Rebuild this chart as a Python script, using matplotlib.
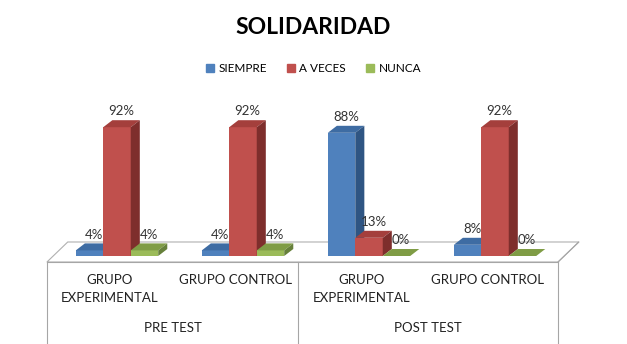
import numpy as np
import matplotlib.pyplot as plt
from matplotlib.patches import Polygon, Patch

plt.rcParams['font.family'] = ['Lato', 'DejaVu Sans']

# datos
grupos = ['GRUPO\nEXPERIMENTAL', 'GRUPO CONTROL', 'GRUPO\nEXPERIMENTAL', 'GRUPO CONTROL']
fases = ['PRE TEST', 'POST TEST']
series = ['SIEMPRE', 'A VECES', 'NUNCA']
siempre = [4, 4, 88, 8]
a_veces = [92, 92, 13, 92]
nunca = [4, 4, 0, 0]

# colores: frente, arriba, lado
colores = {
    'SIEMPRE': ('#4f81bd', '#3e6ca3', '#2f5583'),
    'A VECES': ('#c0504d', '#a43f3c', '#7e2e2c'),
    'NUNCA': ('#9bbb59', '#7f9c45', '#66803a'),
}

fig = plt.figure(figsize=(6.27, 3.44), dpi=100)
ax = fig.add_axes([0, 0, 1, 1])
ax.set_xlim(-0.9286, 4.0476)
ax.set_ylim(-62.86, 182.86)
ax.axis('off')

ancho = 0.218
dx, dy = 0.072, 5.0
x = np.arange(len(grupos))

# piso
fx0, fx1, fy = -0.556, 3.5, -4.3
bdx, bdy = 0.165, 14.3
piso = Polygon([(fx0, fy), (fx1, fy), (fx1 + bdx, fy + bdy), (fx0 + bdx, fy + bdy)],
               closed=True, facecolor='white', edgecolor='#b0b0b0', lw=0.8, zorder=1)
ax.add_patch(piso)

for k, (nombre, vals) in enumerate(zip(series, [siempre, a_veces, nunca])):
    fc, tc, sc = colores[nombre]
    xs = x + (k - 1) * ancho
    ax.bar(xs, vals, width=ancho, color=fc, zorder=3 + k)
    for xi, v in zip(xs, vals):
        l, r = xi - ancho / 2, xi + ancho / 2
        ax.add_patch(Polygon([(l, v), (r, v), (r + dx, v + dy), (l + dx, v + dy)],
                             closed=True, facecolor=tc, lw=0, zorder=3 + k))
        ax.add_patch(Polygon([(r, 0), (r + dx, dy), (r + dx, v + dy), (r, v)],
                             closed=True, facecolor=sc, lw=0, zorder=3 + k))
        ax.text(xi + dx / 2, v + dy + 2.0, f'{v}%', ha='center', va='bottom',
                fontsize=9.5, color='#333333', zorder=10)

# tabla de categorias
lc = '#a6a6a6'
ytab = -62.86
xmid = 1.437
ax.plot([fx0, fx1], [fy, fy], color=lc, lw=0.8, zorder=2)
for xv in [fx0, xmid, fx1]:
    ax.plot([xv, xv], [fy, ytab], color=lc, lw=0.8, zorder=2)
ax.plot([fx1, fx1 + bdx], [fy, fy + bdy], color=lc, lw=0.8, zorder=2)

for i, g in enumerate(grupos):
    ax.text(i - 0.06, -13.0, g, ha='center', va='top', fontsize=9.5,
            color='#222222', linespacing=1.55)
for cx, f in zip([(fx0 + xmid) / 2, (xmid + fx1) / 2], fases):
    ax.text(cx, -51.5, f, ha='center', va='center', fontsize=9.5, color='#222222')

fig.text(0.5, 0.92, 'SOLIDARIDAD', ha='center', va='center',
         fontsize=16.5, fontweight='bold')
handles = [Patch(color=colores[s][0]) for s in series]
fig.legend(handles, series, loc='center', bbox_to_anchor=(0.5, 0.8), ncol=3,
           frameon=False, fontsize=8.5, handlelength=0.7, handleheight=0.7,
           handletextpad=0.35, columnspacing=1.7)

fig.savefig('out.png', dpi=100)
